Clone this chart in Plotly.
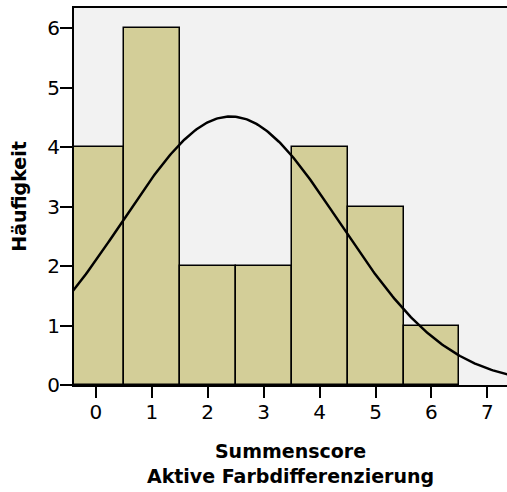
import numpy as np
import plotly.graph_objects as go

scores = [0, 1, 2, 3, 4, 5, 6]
counts = [4, 6, 2, 2, 4, 3, 1]
y_ticks = [0, 1, 2, 3, 4, 5, 6]
x_ticks = [0, 1, 2, 3, 4, 5, 6, 7]

# normal curve fitted to the histogram data
vals = np.repeat(scores, counts)
n = len(vals)
mu = vals.mean()
sd = vals.std(ddof=1)
xs = np.linspace(-0.5, 7.5, 300)
ys = n * 1.0 / (sd * np.sqrt(2 * np.pi)) * np.exp(-0.5 * ((xs - mu) / sd) ** 2)

fig = go.Figure()
fig.add_trace(go.Bar(
    x=scores, y=counts, width=1,
    marker=dict(color="#d3ce98", line=dict(color="black", width=1.5)),
    hoverinfo="skip",
))
fig.add_trace(go.Scatter(
    x=xs, y=ys, mode="lines",
    line=dict(color="black", width=2.5),
    hoverinfo="skip",
))

font_family = "DejaVu Sans, Liberation Sans, sans-serif"
fig.update_layout(
    width=507, height=492,
    margin=dict(l=74, r=0, t=8, b=107),
    paper_bgcolor="white",
    plot_bgcolor="#f2f2f2",
    showlegend=False,
    bargap=0,
    font=dict(family=font_family, color="black"),
    xaxis=dict(
        range=[-0.39, 7.35],
        tickvals=x_ticks,
        ticks="outside", ticklen=11, tickwidth=2, tickcolor="black",
        ticklabelstandoff=-3,
        showline=True, linecolor="black", linewidth=2, mirror=True,
        showgrid=False, zeroline=False,
        tickfont=dict(size=20),
        title=dict(text="<b>Summenscore<br>Aktive Farbdifferenzierung</b>",
                   font=dict(size=19), standoff=22),
    ),
    yaxis=dict(
        range=[0, 6.34],
        tickvals=y_ticks,
        ticks="outside", ticklen=12, tickwidth=2, tickcolor="black",
        ticklabelstandoff=-4,
        showline=True, linecolor="black", linewidth=2,
        showgrid=False, zeroline=False,
        tickfont=dict(size=20),
        title=dict(text="<b>Häufigkeit</b>", font=dict(size=19), standoff=16),
    ),
)

fig.write_html("out.html")
